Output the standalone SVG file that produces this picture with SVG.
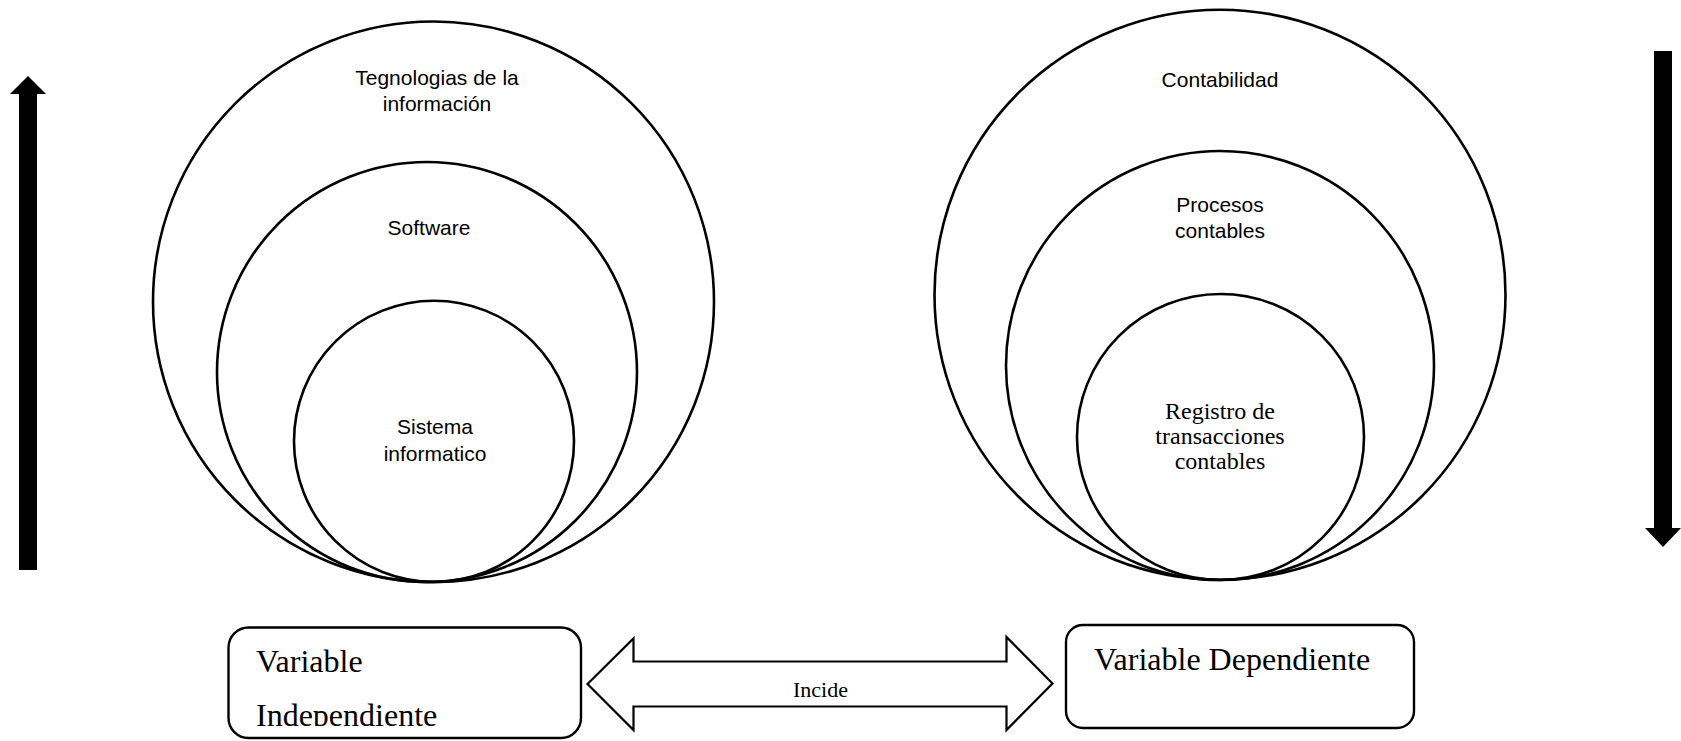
<svg xmlns="http://www.w3.org/2000/svg" width="1681" height="741" viewBox="0 0 1681 741">
<style>
.c{fill:none;stroke:#000;stroke-width:2.6}
.s{font-family:"Liberation Sans",Arial,sans-serif;font-size:21px;fill:#000;text-anchor:middle}
.r{font-family:"Liberation Serif","Times New Roman",serif;fill:#000}
.box{fill:#fff;stroke:#000;stroke-width:2.4}
</style>
<defs>
<clipPath id="clipL"><rect x="228" y="627" width="354" height="99"/></clipPath>
</defs>
<rect width="1681" height="741" fill="#fff"/>
<g id="left-circles">
<ellipse class="c" cx="433.5" cy="301.8" rx="280.5" ry="280.3"/>
<ellipse class="c" cx="427" cy="372" rx="210" ry="210"/>
<ellipse class="c" cx="434" cy="441.3" rx="140" ry="140.5"/>
<text class="s" x="437" y="85">Tegnologias de la</text>
<text class="s" x="437" y="111">información</text>
<text class="s" x="429" y="235">Software</text>
<text class="s" x="435" y="434">Sistema</text>
<text class="s" x="435" y="461">informatico</text>
</g>
<g id="right-circles">
<ellipse class="c" cx="1220" cy="294.7" rx="285.5" ry="285"/>
<ellipse class="c" cx="1220" cy="365.5" rx="214" ry="214.5"/>
<ellipse class="c" cx="1220.5" cy="437" rx="143.5" ry="143"/>
<text class="s" x="1220" y="87">Contabilidad</text>
<text class="s" x="1220" y="212">Procesos</text>
<text class="s" x="1220" y="238">contables</text>
<text class="r" x="1220" y="419" font-size="24" text-anchor="middle">Registro de</text>
<text class="r" x="1220" y="444" font-size="24" text-anchor="middle">transacciones</text>
<text class="r" x="1220" y="469" font-size="24" text-anchor="middle">contables</text>
</g>
<g id="arrow-up">
<polygon points="28,76 46,94 37,94 37,570 19,570 19,94 10,94" fill="#000"/>
</g>
<g id="arrow-down">
<polygon points="1654,51 1672,51 1672,528 1681,528 1663,547 1645,528 1654,528" fill="#000"/>
</g>
<g id="var-independiente">
<rect class="box" x="228.5" y="627.5" width="352.5" height="110.5" rx="20"/>
<g clip-path="url(#clipL)">
<text class="r" x="256" y="672" font-size="32">Variable</text>
<text class="r" x="256" y="726" font-size="32">Independiente</text>
</g>
</g>
<g id="var-dependiente">
<rect class="box" x="1066" y="625" width="348" height="103" rx="17"/>
<text class="r" x="1094" y="670" font-size="32">Variable Dependiente</text>
</g>
<g id="connectors">
<polygon points="587.5,684 633.5,638.5 633.5,661.5 1006.5,661.5 1006.5,637 1052.5,683.5 1006.5,730 1006.5,706.5 633.5,706.5 633.5,730" fill="#fff" stroke="#000" stroke-width="2.2" stroke-linejoin="miter"/>
<text class="r" x="820.5" y="696.5" font-size="22" text-anchor="middle">Incide</text>
</g>
</svg>
